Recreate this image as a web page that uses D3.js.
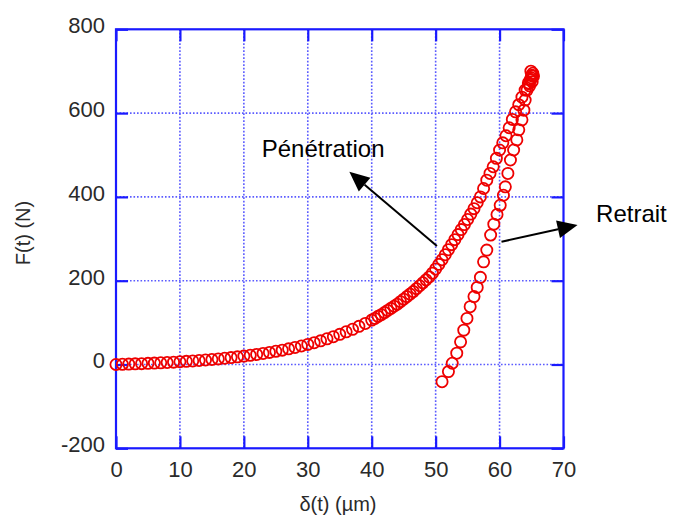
<!DOCTYPE html>
<html><head><meta charset="utf-8">
<script src="https://cdn.jsdelivr.net/npm/d3@7"></script>
<style>body{margin:0;background:#fff}svg{display:block}text{font-family:"Liberation Sans",Arial,sans-serif}</style>
</head><body>
<script>
// ---- data ----
const xTicks = [0,10,20,30,40,50,60,70];
const yTicks = [-200,0,200,400,600,800];
const penetrationX = [0,1,2,3,4,5,6,7,8,9,10,11,12,13,14,15,16,17,18,19,20,21,22,23,24,25,26,27,28,29,30,31,32,33,34,35,36,37,38,39,40,
  40.5,41,41.5,42,42.5,43,43.5,44,44.5,45,45.5,46,46.5,47,47.5,48,48.5,49,49.5,50,50.5,51,51.5,52,52.5,53,53.5,54,54.5,55,55.5,56,56.5,57,57.5,58,58.5,59,59.5,60,60.5,61,61.5,62,62.5,63,63.5,64,64.5,65,
  64.8,65.2,64.9,65.3,65.1,64.7,65.0];
const penetrationY = [0,0.5,1,1.5,2,2.7,3.3,4,4.8,5.6,6.5,7.5,8.5,9.6,10.8,12,13.4,14.9,16.5,18.2,20,22,24,26.4,28.9,31.5,34.3,37.4,40.7,44.2,48,52,56.5,61.3,66.4,72,78,84,91,98,106,
  110,115,119,124,129,134,139,144,150,156,162,168,174,181,188,195,202,209,218,228,239,250,262,274,286,298,310,322,334,346,359,372,386,400,420,440,456,472,492,512,529,546,565,585,603,620,638,655,672,690,
  680,695,700,688,675,665,684];
const retraitX = [65.2,64.9,64.6,64.3,64.0,63.8,63.5,63.0,62.7,62.2,61.7,61.3,60.9,60.6,60.1,59.6,59.1,58.6,58.0,57.5,57.0,56.5,56.0,55.4,54.9,54.4,53.9,53.3,52.6,52.0,51.0];
const retraitY = [690,680,670,655,631,607,584,560,536,512,488,456,424,404,380,358,335,309,273,245,208,184,162,138,110,82,54,27,3,-17,-41];
const annotations = [
  {label:"Pénétration", tx:22.8, ty:495, from:[50.2,283], to:[36.5,460]},
  {label:"Retrait", tx:75.1, ty:340, from:[60.3,293], to:[72.2,333]}
];

const W=675,H=517;
const svg=d3.select("body").append("svg").attr("width",W).attr("height",H);
const x=d3.scaleLinear().domain([0,70]).range([116,563.5]);
const y=d3.scaleLinear().domain([-200,800]).range([448.3,29.3]);
const blue="#1a1aff", gridC="#5c5cff";

// grid
const g=svg.append("g");
g.selectAll("line.vx").data(xTicks.slice(1,-1)).join("line")
  .attr("x1",d=>x(d)).attr("x2",d=>x(d)).attr("y1",y(800)).attr("y2",y(-200))
  .attr("stroke",gridC).attr("stroke-width",1.6).attr("stroke-dasharray","1.6,1.9");
g.selectAll("line.hy").data(yTicks.slice(1,-1)).join("line")
  .attr("y1",d=>y(d)).attr("y2",d=>y(d)).attr("x1",x(0)).attr("x2",x(70))
  .attr("stroke",gridC).attr("stroke-width",1.6).attr("stroke-dasharray","1.6,1.9");

// axes
function styleAxis(sel){
  sel.select(".domain").remove();
  sel.selectAll(".tick line").attr("stroke",blue).attr("stroke-width",2.2);
  sel.selectAll(".tick text").attr("fill","#2a2a2a").style("font-size","22px").style("font-family","'Liberation Sans',Arial,sans-serif");
}
const fmt=d=>String(d);
svg.append("g").attr("transform",`translate(0,${y(-200)})`)
  .call(d3.axisBottom(x).tickValues(xTicks).tickSize(-12).tickPadding(13).tickFormat(fmt)).call(styleAxis);
svg.append("g").attr("transform",`translate(${x(0)},0)`)
  .call(d3.axisLeft(y).tickValues(yTicks).tickSize(-12).tickPadding(11).tickFormat(fmt)).call(styleAxis)
  .selectAll(".tick text").attr("dy","0.15em");
svg.append("g").attr("transform",`translate(0,${y(800)})`)
  .call(d3.axisTop(x).tickValues(xTicks).tickSize(-12).tickFormat("")).call(styleAxis);
svg.append("g").attr("transform",`translate(${x(70)},0)`)
  .call(d3.axisRight(y).tickValues(yTicks).tickSize(-12).tickFormat("")).call(styleAxis);
svg.append("rect").attr("x",x(0)).attr("y",y(800)).attr("width",x(70)-x(0)).attr("height",y(-200)-y(800))
  .attr("fill","none").attr("stroke",blue).attr("stroke-width",2.2);

// data
const pen=penetrationX.map((v,i)=>[v,penetrationY[i]]);
const ret=retraitX.map((v,i)=>[v,retraitY[i]]);
svg.append("g").selectAll("circle").data(pen.concat(ret)).join("circle")
  .attr("cx",d=>x(d[0])).attr("cy",d=>y(d[1])).attr("r",5.6)
  .attr("fill","none").attr("stroke","#ee0000").attr("stroke-width",1.8);

// titles
svg.append("text").attr("x",338).attr("y",511).attr("text-anchor","middle")
  .style("font-size","20px").attr("fill","#2a2a2a").text("δ(t) (µm)");
svg.append("text").attr("transform","translate(30,233) rotate(-90)").attr("text-anchor","middle")
  .style("font-size","20px").attr("fill","#2a2a2a").text("F(t) (N)");

// annotations
annotations.forEach(a=>{
  svg.append("text").attr("x",x(a.tx)).attr("y",y(a.ty)).style("font-size","24px").attr("fill","#000").text(a.label);
  const x1=x(a.from[0]),y1=y(a.from[1]),x2=x(a.to[0]),y2=y(a.to[1]);
  const ang=Math.atan2(y2-y1,x2-x1),L=20,Wd=9;
  const bx=x2-L*Math.cos(ang),by=y2-L*Math.sin(ang);
  svg.append("line").attr("x1",x1).attr("y1",y1).attr("x2",bx).attr("y2",by).attr("stroke","#000").attr("stroke-width",2);
  const p=[[x2,y2],[bx+Wd*Math.sin(ang),by-Wd*Math.cos(ang)],[bx-Wd*Math.sin(ang),by+Wd*Math.cos(ang)]];
  svg.append("path").attr("d","M"+p.map(q=>q.join(",")).join("L")+"Z").attr("fill","#000");
});
</script>
</body></html>
